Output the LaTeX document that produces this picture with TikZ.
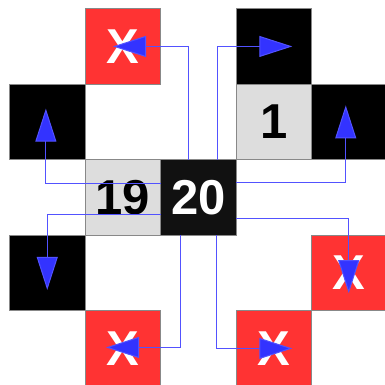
\documentclass[tikz,border=0pt]{standalone}
\usepackage{fontspec}
\setmainfont{Liberation Sans}
\usetikzlibrary{positioning,arrows.meta}

\definecolor{cellred}{RGB}{255,51,51}
\definecolor{cellgray}{RGB}{221,221,221}
\definecolor{celldark}{RGB}{17,17,17}
\definecolor{cellborder}{RGB}{136,136,136}
\definecolor{linkblue}{RGB}{51,51,255}

\begin{document}
\begin{tikzpicture}[x=1pt, y=1pt, node distance=0pt,
		cell/.style={draw=cellborder, line width=0.8pt, rectangle, minimum size=75.5pt, inner sep=0pt, outer sep=0pt, font=\bfseries\fontsize{49}{49}\selectfont},
		redcell/.style={cell, fill=cellred, text=white},
		blackcell/.style={cell, fill=black},
		graycell/.style={cell, fill=cellgray, text=black},
		link/.style={draw=linkblue!85, line width=1pt, -{Triangle[length=33pt, width=21pt, fill=linkblue]}}]
		\useasboundingbox (0,0) rectangle (385,385);

		% Cells
		\node[cell, fill=celldark, text=white] (twenty) at (198.25,187.55) {20};
		\node[graycell, left=of twenty] (nineteen) {19};
		\node[graycell, above right=of twenty] (one) {1};
		\node[blackcell, above=of one] (topblack) {};
		\node[blackcell, right=of one] (rightblack) {};
		\node[redcell, above=75.5pt of nineteen] (topx) {X};
		\node[blackcell, above left=of nineteen] (leftup) {};
		\node[blackcell, below left=of nineteen] (leftdown) {};
		\node[redcell, below=75.5pt of nineteen] (botx) {X};
		\node[redcell, below=75.5pt of rightblack] (rightx) {X};
		\node[redcell, below left=of rightx] (botrx) {X};

		% Moves out of 20
		\draw[link] ([xshift=-10pt]twenty.north) |- ([xshift=-9.75pt]topx.center);
		\draw[link] ([xshift=19pt]twenty.north) |- ([xshift=18.5pt]topblack.center);
		\draw[link] ([yshift=14pt]twenty.west) -| ([xshift=-1.4pt, yshift=13.3pt]leftup.center);
		\draw[link] ([yshift=15pt]twenty.east) -| ([xshift=-3.5pt, yshift=16.5pt]rightblack.center);
		\draw[link] ([yshift=-17pt]twenty.west) -| ([yshift=-17pt]leftdown.center);
		\draw[link] ([xshift=-17.5pt]twenty.south) |- ([xshift=-16.7pt, yshift=1pt]botx.center);
		\draw[link] ([yshift=-21.5pt]twenty.east) -| ([xshift=-0.5pt, yshift=-20.3pt]rightx.center);
		\draw[link] ([xshift=18.5pt]twenty.south) |- ([xshift=18.5pt]botrx.center);
	\end{tikzpicture}
\end{document}
